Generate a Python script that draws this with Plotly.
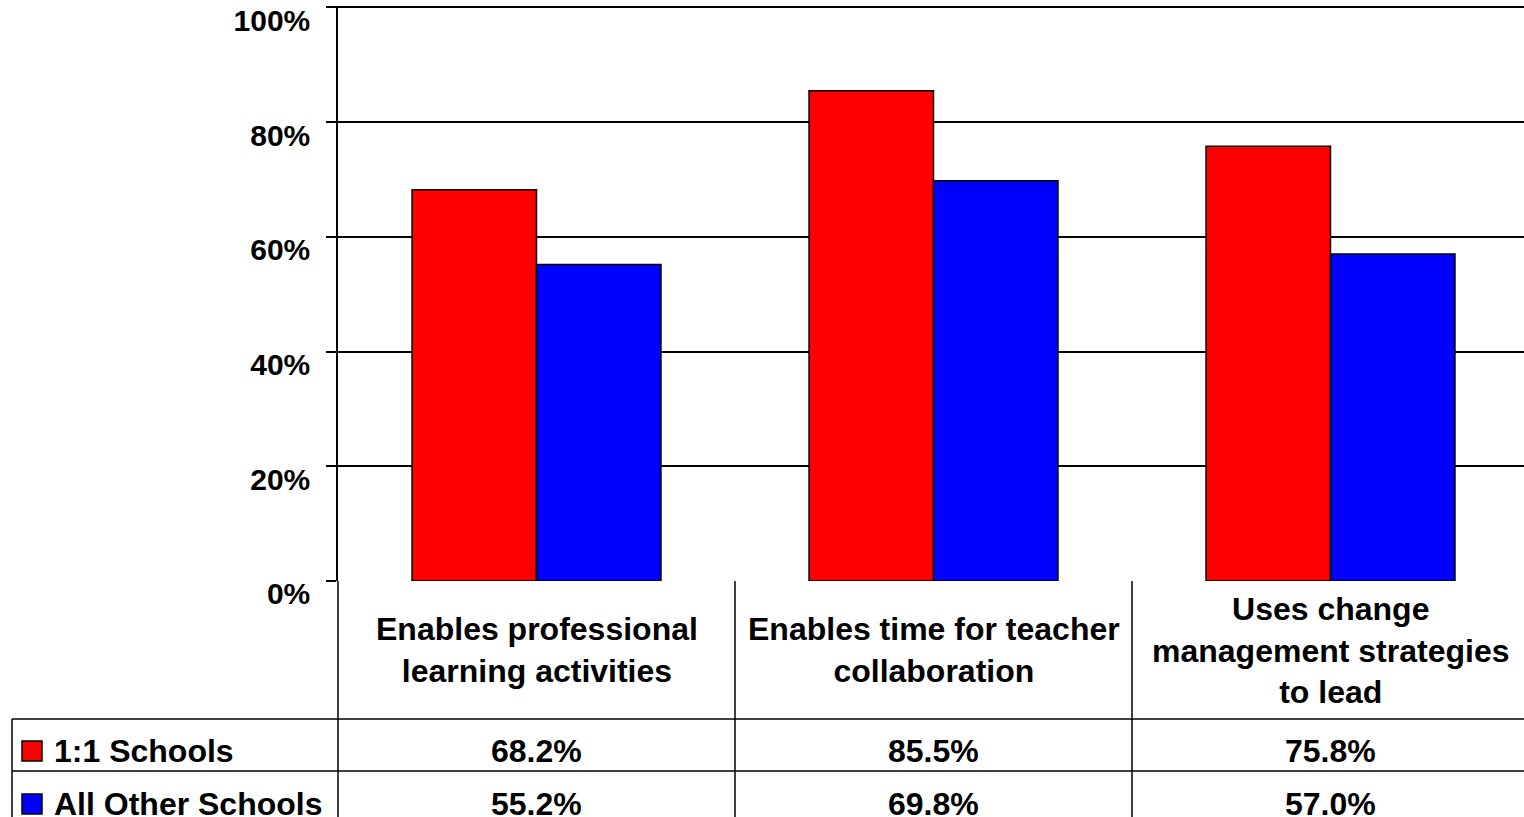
import plotly.graph_objects as go

# Chart data
categories = [
    "Enables professional<br>learning activities",
    "Enables time for teacher<br>collaboration",
    "Uses change<br>management strategies<br>to lead",
]
series_names = ["1:1 Schools", "All Other Schools"]
one_to_one = [68.2, 85.5, 75.8]
all_other = [55.2, 69.8, 57.0]
series_colors = ["#FF0000", "#0000FF"]
y_tick_values = [0, 20, 40, 60, 80, 100]
y_tick_labels = ["0%", "20%", "40%", "60%", "80%", "100%"]

# Page geometry (pixels)
W, H = 1524, 817
PLOT_LEFT, PLOT_TOP, PLOT_BOTTOM = 338, 7.5, 581
Y_MAX = 100.3            # a little headroom so the 100% rule and tick are drawn
CAT_WIDTH = 397
ROW1_TOP, ROW2_TOP = 719, 771
TABLE_LEFT = 12
FONT = "Liberation Sans, Arial, sans-serif"
LINE = dict(color="black", width=1.5)


def px(x):
    return x / W


def py(y):
    return 1 - y / H


series_values = [one_to_one, all_other]
x_pos = list(range(len(categories)))

fig = go.Figure()
for name, vals, color in zip(series_names, series_values, series_colors):
    fig.add_trace(go.Bar(
        x=x_pos, y=vals, name=name,
        marker=dict(color=color, line=dict(color="black", width=1.5)),
        showlegend=False, hoverinfo="skip",
    ))

shapes = []
# y axis line continued down through the data table
shapes.append(dict(type="line", xref="paper", yref="paper",
                   x0=px(PLOT_LEFT), x1=px(PLOT_LEFT), y0=py(PLOT_BOTTOM), y1=0, line=LINE))
# category separators in the table
for b in [0.5, 1.5]:
    shapes.append(dict(type="line", xref="x", yref="paper",
                       x0=b, x1=b, y0=py(PLOT_BOTTOM), y1=0, line=LINE))
# table row rules
for y in [ROW1_TOP, ROW2_TOP]:
    shapes.append(dict(type="line", xref="paper", yref="paper",
                       x0=px(TABLE_LEFT), x1=1, y0=py(y), y1=py(y), line=LINE))
# table left border
shapes.append(dict(type="line", xref="paper", yref="paper",
                   x0=px(TABLE_LEFT), x1=px(TABLE_LEFT), y0=py(ROW1_TOP), y1=0, line=LINE))
# legend keys
row_centers = [751, 804]
for color, yc in zip(series_colors, row_centers):
    shapes.append(dict(type="rect", xref="paper", yref="paper",
                       x0=px(22), x1=px(42), y0=py(yc - 10), y1=py(yc + 10),
                       fillcolor=color, line=dict(color="black", width=1.5)))

annotations = []
# category labels
for i, cat in enumerate(categories):
    annotations.append(dict(x=i, y=py(650), xref="x", yref="paper",
                            text=f"<b>{cat}</b>", showarrow=False,
                            xanchor="center", yanchor="middle",
                            font=dict(family=FONT, size=32, color="black")))
# series names and values
for name, vals, yc in zip(series_names, series_values, row_centers):
    annotations.append(dict(x=px(52), y=py(yc), xref="paper", yref="paper",
                            text=f"<b>{name}</b>", showarrow=False,
                            xanchor="left", yanchor="middle",
                            font=dict(family=FONT, size=32, color="black")))
    for i, v in enumerate(vals):
        annotations.append(dict(x=i, y=py(yc), xref="x", yref="paper",
                                text=f"<b>{v:.1f}%</b>", showarrow=False,
                                xanchor="center", yanchor="middle",
                                font=dict(family=FONT, size=32, color="black")))

plot_px_height = (PLOT_BOTTOM - PLOT_TOP) * Y_MAX / 100
fig.update_layout(
    width=W, height=H,
    margin=dict(l=0, r=0, t=0, b=0),
    paper_bgcolor="white", plot_bgcolor="white",
    barmode="group", bargap=0.373, bargroupgap=0,
    shapes=shapes, annotations=annotations,
    xaxis=dict(domain=[px(PLOT_LEFT), 1],
               range=[-0.5, -0.5 + (W - PLOT_LEFT) / CAT_WIDTH],
               showticklabels=False, showgrid=False, zeroline=False,
               showline=False, ticks="", fixedrange=True),
    yaxis=dict(domain=[py(PLOT_BOTTOM), py(PLOT_BOTTOM - plot_px_height)],
               range=[0, Y_MAX],
               tickvals=y_tick_values, ticktext=y_tick_labels,
               ticks="outside", ticklen=10, tickwidth=1.5, tickcolor="black",
               showline=True, linecolor="black", linewidth=1.5,
               showgrid=True, gridcolor="black", gridwidth=1.5,
               zeroline=False, automargin=False,
               ticklabelshift=13, ticklabelstandoff=10,
               tickfont=dict(family=FONT, size=30, color="black", weight="bold"),
               fixedrange=True),
)

fig.write_html("out.html")
